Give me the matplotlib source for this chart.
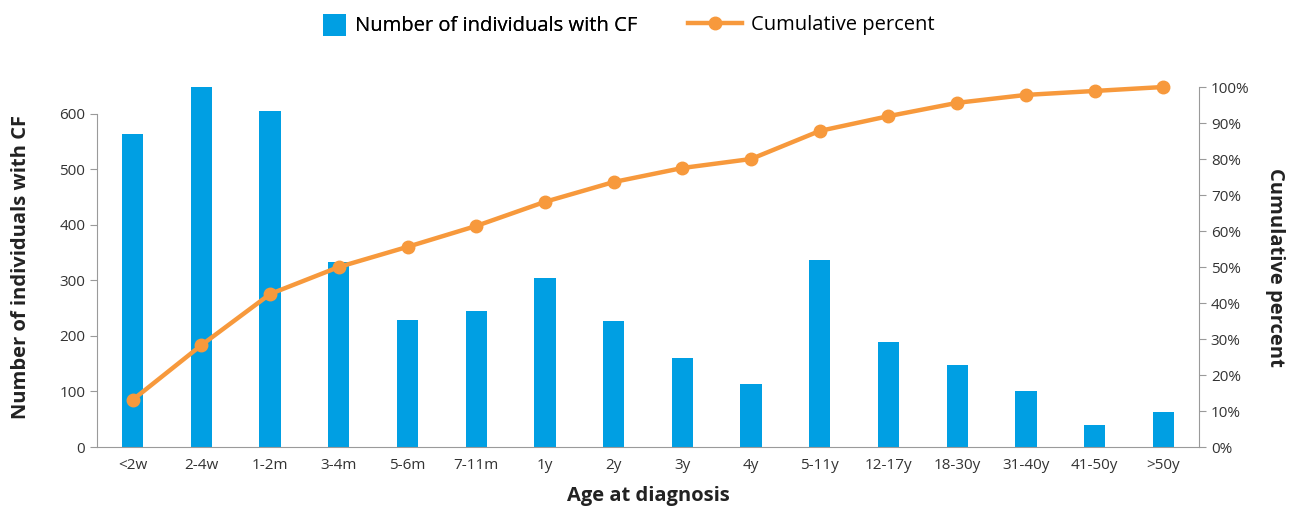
import numpy as np
import matplotlib
matplotlib.use("Agg")
import matplotlib.pyplot as plt
from matplotlib.ticker import FuncFormatter

plt.rcParams['font.family'] = ['Open Sans', 'DejaVu Sans']

age_groups = ['<2w', '2-4w', '1-2m', '3-4m', '5-6m', '7-11m', '1y', '2y', '3y',
              '4y', '5-11y', '12-17y', '18-30y', '31-40y', '41-50y', '>50y']
individuals = [564, 648, 605, 333, 229, 245, 304, 227, 160, 113, 337, 189,
               148, 101, 40, 63]
cumulative_pct = [13.1, 28.3, 42.5, 50.0, 55.6, 61.4, 68.1, 73.6, 77.5, 80.0,
                  87.8, 91.9, 95.6, 97.8, 98.9, 100.0]

BLUE = '#009fe3'
ORANGE = '#f7993c'
GREY = '#9a9a9a'
TEXT = '#333333'
W, H = 1296, 511

fig = plt.figure(figsize=(W / 100, H / 100), dpi=100)
ax = fig.add_axes([97 / W, 64 / H, 1102 / W, 360 / H])
x = np.arange(len(age_groups))

bars = ax.bar(x, individuals, width=0.31, color=BLUE, zorder=2,
              label='Number of individuals with CF')
ax.set_xlim(-0.52, len(age_groups) - 1 + 0.52)
ax.set_ylim(0, 648)
ax.set_yticks(range(0, 601, 100))
ax.set_xticks(x)
ax.set_xticklabels(age_groups)
ax.tick_params(axis='x', length=0, pad=8, labelsize=11, labelcolor=TEXT)
ax.tick_params(axis='y', length=5, color=GREY, labelsize=11, labelcolor=TEXT)
ax.spines['top'].set_visible(False)
ax.spines['right'].set_visible(False)
ax.spines['left'].set_bounds(0, 600)
for s in ('left', 'bottom'):
    ax.spines[s].set_color(GREY)
ax.set_xlabel('Age at diagnosis', fontsize=14.5, fontweight='bold', color='#222222')
ax.xaxis.set_label_coords(0.5, -0.108)
ax.set_ylabel('Number of individuals with CF', fontsize=14.5, fontweight='bold',
              color='#222222')
ax.yaxis.set_label_coords(-0.06, 0.5)

ax2 = ax.twinx()
line, = ax2.plot(x, cumulative_pct, color=ORANGE, lw=3.2, marker='o',
                 markersize=9, zorder=3, clip_on=False, label='Cumulative percent')
ax2.set_ylim(0, 100)
ax2.set_yticks(range(0, 101, 10))
ax2.yaxis.set_major_formatter(FuncFormatter(lambda v, p: f'{v:.0f}%'))
ax2.tick_params(axis='y', length=5, color=GREY, labelsize=11, labelcolor=TEXT)
for s in ('top', 'left', 'bottom'):
    ax2.spines[s].set_visible(False)
ax2.spines['right'].set_color(GREY)
ax2.set_ylabel('Cumulative percent', fontsize=14.5, fontweight='bold',
               color='#222222', rotation=270, va='center')
ax2.yaxis.set_label_coords(1.069, 0.5)

leg_kw = dict(loc='center left', frameon=False, fontsize=14.5, borderpad=0,
              borderaxespad=0, handletextpad=0.45)
leg1 = fig.legend(handles=[bars], bbox_to_anchor=(323 / W, 1 - 25 / H),
                  handlelength=1.15, handleheight=1.3, **leg_kw)
fig.add_artist(leg1)
fig.legend(handles=[line], bbox_to_anchor=(688 / W, 1 - 25 / H),
           handlelength=2.7, **leg_kw)

fig.savefig('out.png', dpi=100)
